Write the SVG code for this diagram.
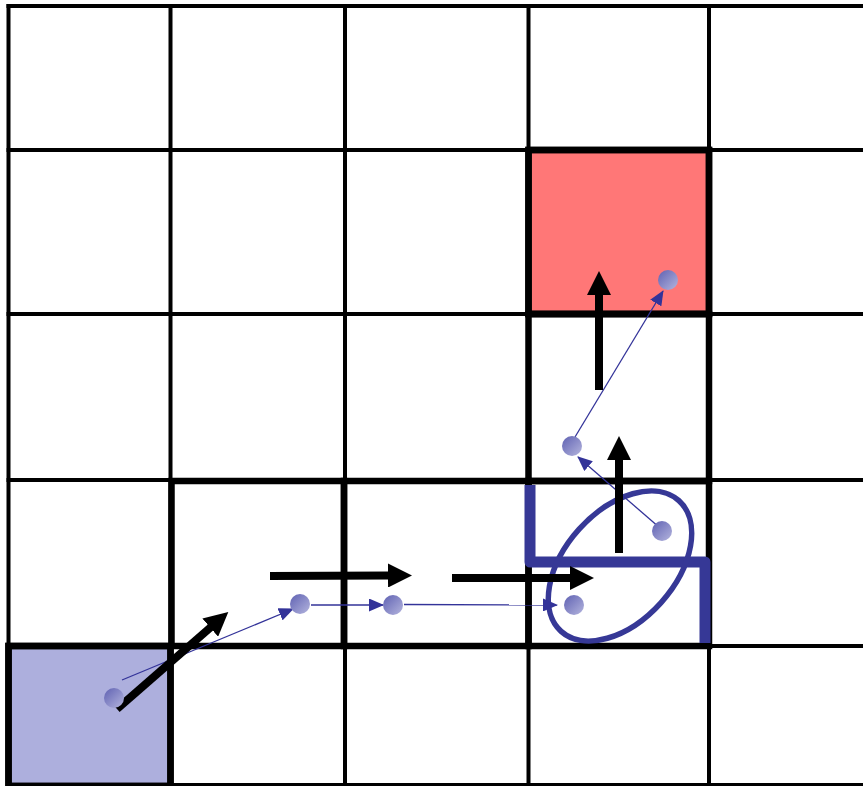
<svg xmlns="http://www.w3.org/2000/svg" width="863" height="786" viewBox="0 0 863 786">
<style>
.grid line{stroke:#000;stroke-width:4}
.cell{stroke:#000;stroke-width:6.5}
.move{stroke:#000;stroke-width:8;fill:none;marker-end:url(#bigHead)}
.link{stroke:#333399;stroke-width:1.3;fill:none;marker-end:url(#smallHead)}
.dot{fill:url(#dotGrad)}
</style>
<defs>
<marker id="bigHead" markerUnits="userSpaceOnUse" markerWidth="24" markerHeight="24" viewBox="0 0 24 24" refX="1" refY="12" orient="auto">
<path d="M0,0 L24,12 L0,24 z" fill="#000"/>
</marker>
<marker id="smallHead" markerUnits="userSpaceOnUse" markerWidth="15" markerHeight="13" viewBox="0 0 15 13" refX="14" refY="6.5" orient="auto">
<path d="M0,0 L15,6.5 L0,13 z" fill="#333399"/>
</marker>
<linearGradient id="dotGrad" x1="0" y1="0" x2="1" y2="1">
<stop offset="0" stop-color="#5f61b2"/>
<stop offset="1" stop-color="#b4b5de"/>
</linearGradient>
</defs>
<rect width="863" height="786" fill="#fff"/>
<g id="start-cell"><rect class="cell" x="8.5" y="646" width="162" height="140" fill="#adafdd"/></g>
<g id="goal-cell"><rect class="cell" x="528.5" y="150" width="180.5" height="164" fill="#ff7777"/></g>
<g class="grid" id="grid">
<line x1="8.5" y1="4" x2="8.5" y2="786"/>
<line x1="170.5" y1="4" x2="170.5" y2="786"/>
<line x1="345" y1="4" x2="345" y2="786"/>
<line x1="528.5" y1="4" x2="528.5" y2="786"/>
<line x1="709" y1="4" x2="709" y2="786"/>
<line x1="6.5" y1="6" x2="863" y2="6"/>
<line x1="6.5" y1="150" x2="863" y2="150"/>
<line x1="6.5" y1="314" x2="863" y2="314"/>
<line x1="6.5" y1="480" x2="863" y2="480"/>
<line x1="6.5" y1="646" x2="863" y2="646"/>
<line x1="6.5" y1="785" x2="863" y2="785"/>
</g>
<g id="path-cells" fill="none">
<rect class="cell" x="8.5" y="646" width="162" height="140"/>
<rect class="cell" x="171.5" y="481" width="172.5" height="165"/>
<rect class="cell" x="344" y="481" width="184.5" height="165"/>
<rect class="cell" x="528.5" y="481" width="180.5" height="165"/>
<rect class="cell" x="528.5" y="314" width="180.5" height="167"/>
<rect class="cell" x="528.5" y="150" width="180.5" height="164"/>
</g>
<g id="wall"><polyline points="530,485 530,562 705,562 705,643" fill="none" stroke="#363896" stroke-width="11" stroke-linejoin="round"/></g>
<g id="uncertainty"><ellipse cx="620" cy="566" rx="88" ry="55" transform="rotate(-48 620 566)" fill="none" stroke="#363896" stroke-width="5.5"/></g>
<g id="connectors">
<line class="link" x1="122" y1="680" x2="293" y2="609"/>
<line class="link" x1="311" y1="605" x2="383" y2="605"/>
<line class="link" x1="404" y1="604.5" x2="557" y2="605"/>
<line class="link" x1="660" y1="528" x2="578" y2="457"/>
<line class="link" x1="575" y1="437" x2="663" y2="291"/>
<line class="move" x1="117" y1="709" x2="211" y2="627"/>
<line class="move" x1="270" y1="576" x2="389" y2="575.5"/>
<line class="move" x1="452" y1="578" x2="571" y2="578"/>
<line class="move" x1="619" y1="553" x2="619" y2="459"/>
<line class="move" x1="599" y1="390" x2="599" y2="294"/>
</g>
<g id="dot1"><circle class="dot" cx="114" cy="698" r="10"/></g>
<g id="dot2"><circle class="dot" cx="300" cy="604" r="10"/></g>
<g id="dot3"><circle class="dot" cx="393" cy="605" r="10"/></g>
<g id="dot4"><circle class="dot" cx="574" cy="605" r="10"/></g>
<g id="dot5"><circle class="dot" cx="662" cy="531" r="10"/></g>
<g id="dot6"><circle class="dot" cx="572" cy="446" r="10"/></g>
<g id="dot7"><circle class="dot" cx="668" cy="280" r="10"/></g>
</svg>
